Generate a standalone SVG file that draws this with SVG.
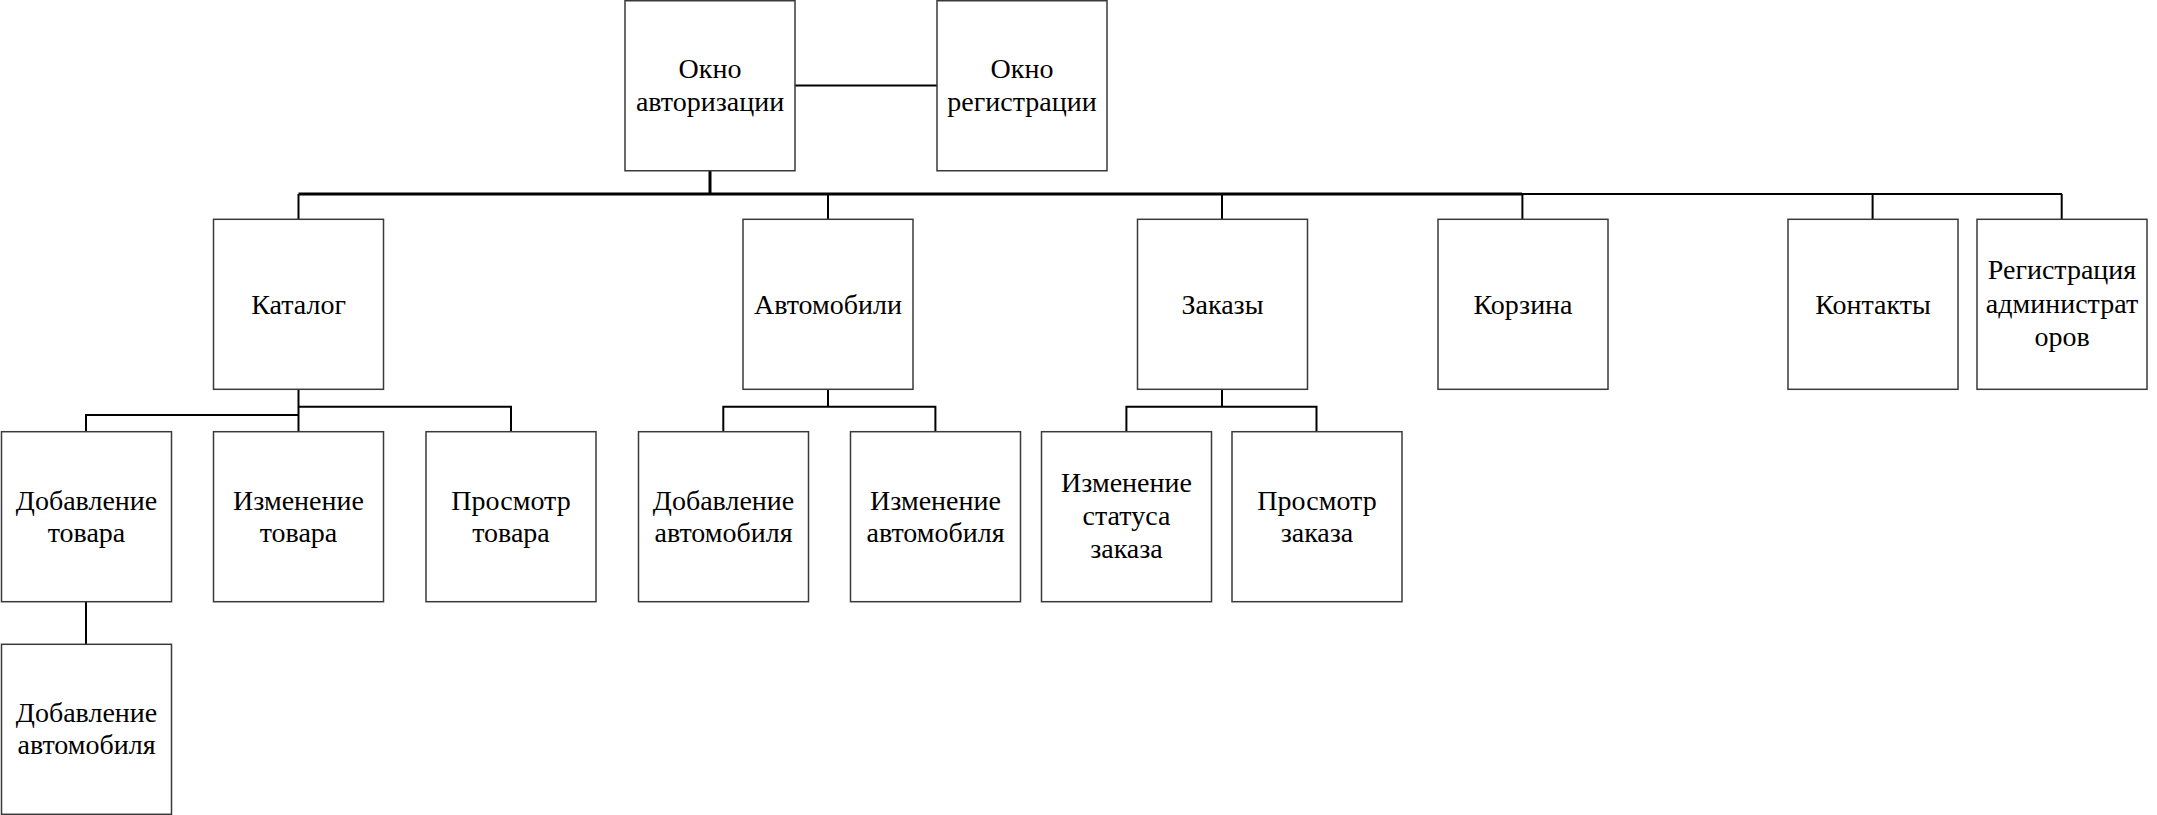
<svg xmlns="http://www.w3.org/2000/svg" width="2157" height="815" viewBox="0 0 2157 815">
<style>
.box{fill:#fff;stroke:#3a3a3a;stroke-width:1.5}
.t{font-family:"Liberation Serif","DejaVu Serif","Times New Roman",serif;font-size:28px;fill:#000;text-anchor:middle}
.c{fill:none;stroke:#000;stroke-width:2}
.ct{fill:none;stroke:#000;stroke-width:3}
</style>
<rect width="2157" height="815" fill="#fff"/>
<g id="connectors">
<path class="c" d="M795 85.5H937"/>
<path class="ct" d="M710 171V194"/>
<path class="ct" d="M298.5 194H1522"/>
<path class="c" d="M1522 194H2062"/>
<path class="c" d="M298.5 194V219.3M828 194V219.3M1222 194V219.3M1522.4 194V219.3M1872.6 194V219.3M2061.7 194V219.3"/>
<path class="c" d="M298.5 389.3V431.7M298.5 415H86V431.7M298.5 406.7H511V431.7"/>
<path class="c" d="M828 389.3V406.7M723.3 431.7V406.7H935.4V431.7"/>
<path class="c" d="M1222 389.3V406.7M1126.4 431.7V406.7H1316.5V431.7"/>
<path class="c" d="M86 601.7V644.3"/>
</g>
<g id="auth"><rect class="box" x="625" y="0.75" width="170" height="170"/><text class="t" x="710" y="78">Окно</text><text class="t" x="710" y="111">авторизации</text></g>
<g id="register"><rect class="box" x="937" y="0.75" width="170" height="170"/><text class="t" x="1022" y="78">Окно</text><text class="t" x="1022" y="111">регистрации</text></g>
<g id="catalog"><rect class="box" x="213.5" y="219.3" width="170" height="170"/><text class="t" x="298.5" y="313.5">Каталог</text></g>
<g id="cars"><rect class="box" x="743" y="219.3" width="170" height="170"/><text class="t" x="828" y="313.5">Автомобили</text></g>
<g id="orders"><rect class="box" x="1137.5" y="219.3" width="170" height="170"/><text class="t" x="1222.5" y="313.5">Заказы</text></g>
<g id="cart"><rect class="box" x="1438" y="219.3" width="170" height="170"/><text class="t" x="1523" y="313.5">Корзина</text></g>
<g id="contacts"><rect class="box" x="1788" y="219.3" width="170" height="170"/><text class="t" x="1873" y="313.5">Контакты</text></g>
<g id="adminreg"><rect class="box" x="1977" y="219.3" width="170" height="170"/><text class="t" x="2062" y="279">Регистрация</text><text class="t" x="2062" y="312.5">администрат</text><text class="t" x="2062" y="346">оров</text></g>
<g id="addgood"><rect class="box" x="1.5" y="431.7" width="170" height="170"/><text class="t" x="86.5" y="510">Добавление</text><text class="t" x="86.5" y="542">товара</text></g>
<g id="editgood"><rect class="box" x="213.5" y="431.7" width="170" height="170"/><text class="t" x="298.5" y="510">Изменение</text><text class="t" x="298.5" y="542">товара</text></g>
<g id="viewgood"><rect class="box" x="426" y="431.7" width="170" height="170"/><text class="t" x="511" y="510">Просмотр</text><text class="t" x="511" y="542">товара</text></g>
<g id="addcar"><rect class="box" x="638.5" y="431.7" width="170" height="170"/><text class="t" x="723.5" y="510">Добавление</text><text class="t" x="723.5" y="542">автомобиля</text></g>
<g id="editcar"><rect class="box" x="850.5" y="431.7" width="170" height="170"/><text class="t" x="935.5" y="510">Изменение</text><text class="t" x="935.5" y="542">автомобиля</text></g>
<g id="editstatus"><rect class="box" x="1041.5" y="431.7" width="170" height="170"/><text class="t" x="1126.5" y="492">Изменение</text><text class="t" x="1126.5" y="525">статуса</text><text class="t" x="1126.5" y="558">заказа</text></g>
<g id="vieworder"><rect class="box" x="1232" y="431.7" width="170" height="170"/><text class="t" x="1317" y="510">Просмотр</text><text class="t" x="1317" y="542">заказа</text></g>
<g id="addcar2"><rect class="box" x="1.5" y="644.3" width="170" height="170"/><text class="t" x="86.5" y="722">Добавление</text><text class="t" x="86.5" y="754">автомобиля</text></g>
</svg>
